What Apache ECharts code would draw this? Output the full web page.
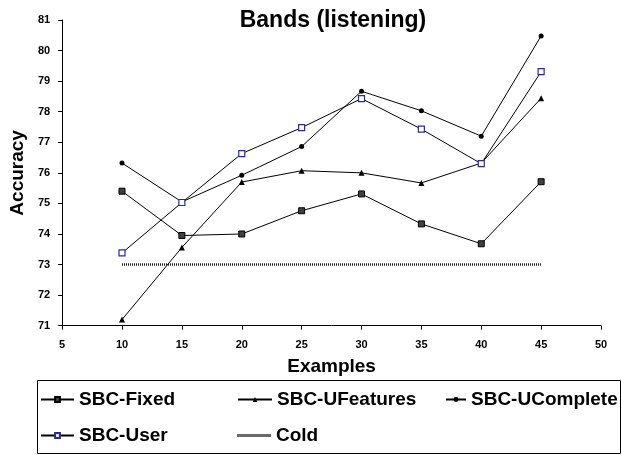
<!DOCTYPE html>
<html>
<head>
<meta charset="utf-8">
<script src="https://cdn.jsdelivr.net/npm/echarts@6/dist/echarts.min.js"></script>
<style>
  html, body { margin: 0; padding: 0; background: #fff; }
  #chart { width: 621px; height: 455px; }
</style>
</head>
<body>
<div id="chart"></div>
<script>
// Number of training examples
var examples = [10, 15, 20, 25, 30, 35, 40, 45];

// Accuracy for each method
var sbcFixed     = [75.40, 73.95, 74.00, 74.76, 75.31, 74.33, 73.68, 75.71];
var sbcUFeatures = [71.20, 73.56, 75.70, 76.07, 76.00, 75.67, 76.32, 78.44];
var sbcUComplete = [76.32, 75.05, 75.92, 76.86, 78.67, 78.03, 77.20, 80.48];
var sbcUser      = [73.38, 75.03, 76.63, 77.48, 78.43, 77.43, 76.30, 79.31];
var cold         = [73, 73, 73, 73, 73, 73, 73, 73];

var xTicks = { min: 5, max: 50, interval: 5 };
var yTicks = { min: 71, max: 81, interval: 1 };

function pairs(vals) {
  return examples.map(function (x, i) { return [x, vals[i]]; });
}

var FONT = '"Liberation Sans", Arial, sans-serif';

var chart = echarts.init(document.getElementById('chart'), null, { renderer: 'canvas' });

function legendAt(entry, left, top, w, h) {
  return {
    data: [entry],
    left: left,
    top: top,
    itemWidth: w,
    itemHeight: h || 6,
    padding: 0,
    selectedMode: false,
    textStyle: { fontFamily: FONT, fontWeight: 'bold', fontSize: 19, color: '#000' }
  };
}

var option = {
  animation: false,
  backgroundColor: '#fff',
  title: {
    text: 'Bands (listening)',
    left: 328,
    textAlign: 'center',
    top: 4,
    textStyle: { fontFamily: FONT, fontWeight: 'bold', fontSize: 23, color: '#000' }
  },
  grid: { left: 55, right: 20, top: 20, bottom: 129.3 },
  xAxis: {
    type: 'value',
    min: xTicks.min, max: xTicks.max, interval: xTicks.interval,
    name: 'Examples',
    nameLocation: 'middle',
    nameGap: 32,
    nameTextStyle: { fontFamily: FONT, fontWeight: 'bold', fontSize: 19, color: '#000' },
    axisLine: { lineStyle: { color: '#000', width: 1 } },
    axisTick: { length: 4, lineStyle: { color: '#000' } },
    axisLabel: { margin: 14, fontFamily: FONT, fontWeight: 'bold', fontSize: 11, color: '#000' },
    splitLine: { show: false }
  },
  yAxis: {
    type: 'value',
    min: yTicks.min, max: yTicks.max, interval: yTicks.interval,
    name: 'Accuracy',
    nameLocation: 'middle',
    nameRotate: 90,
    nameGap: 30,
    nameTextStyle: { fontFamily: FONT, fontWeight: 'bold', fontSize: 19, color: '#000' },
    axisLine: { show: true, lineStyle: { color: '#000', width: 1 } },
    axisTick: { show: true, length: 4, lineStyle: { color: '#000' } },
    axisLabel: { margin: 12, fontFamily: FONT, fontWeight: 'bold', fontSize: 11, color: '#000' },
    splitLine: { show: false }
  },
  legend: [
    legendAt('SBC-Fixed', 40, 390, 33),
    legendAt('SBC-UFeatures', 237, 390, 34),
    legendAt('SBC-UComplete', 445, 390, 20),
    legendAt('SBC-User', 40, 426, 33),
    legendAt({ name: 'Cold', icon: 'rect', itemStyle: { color: '#6a6a6a', borderWidth: 0 } }, 237, 426, 34, 3)
  ],
  graphic: [{
    type: 'rect',
    shape: { x: 37.5, y: 380.5, width: 583, height: 73 },
    style: { fill: 'none', stroke: '#000', lineWidth: 1 },
    z: 0
  }],
  series: [
    {
      name: 'SBC-Fixed', type: 'line', data: pairs(sbcFixed),
      symbol: 'rect', symbolSize: 6,
      lineStyle: { color: '#000', width: 1 },
      itemStyle: { color: '#404040', borderColor: '#000', borderWidth: 1 },
      z: 3
    },
    {
      name: 'SBC-UFeatures', type: 'line', data: pairs(sbcUFeatures),
      symbol: 'triangle', symbolSize: 6,
      lineStyle: { color: '#000', width: 1 },
      itemStyle: { color: '#000' },
      z: 3
    },
    {
      name: 'SBC-UComplete', type: 'line', data: pairs(sbcUComplete),
      symbol: 'circle', symbolSize: 5,
      lineStyle: { color: '#000', width: 1 },
      itemStyle: { color: '#000' },
      z: 3
    },
    {
      name: 'SBC-User', type: 'line', data: pairs(sbcUser),
      symbol: 'rect', symbolSize: 6,
      lineStyle: { color: '#000', width: 1 },
      itemStyle: { color: '#fff', borderColor: '#2a2aa0', borderWidth: 1.2 },
      z: 4
    },
    {
      name: 'Cold', type: 'line', data: pairs(cold),
      symbol: 'none',
      lineStyle: { color: '#222', width: 2.5, type: [1, 1] },
      itemStyle: { color: '#222' },
      z: 2
    }
  ]
};

chart.setOption(option);
</script>
</body>
</html>
